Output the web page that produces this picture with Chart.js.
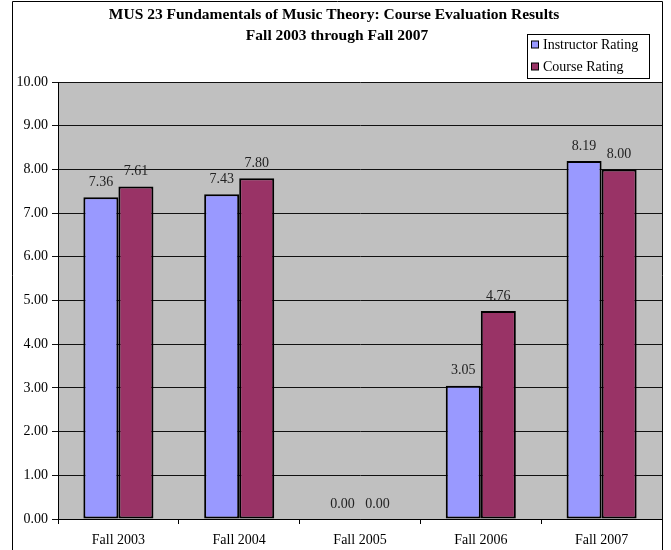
<!DOCTYPE html>
<html>
<head>
<meta charset="utf-8">
<script src="https://cdn.jsdelivr.net/npm/chart.js@4"></script>
<style>
  html, body { margin: 0; padding: 0; background: #fff; }
  #wrap { width: 671px; height: 550px; position: relative; }
</style>
</head>
<body>
<div id="wrap"><canvas id="c" width="671" height="550"></canvas></div>
<script>
const categories = ['Fall 2003', 'Fall 2004', 'Fall 2005', 'Fall 2006', 'Fall 2007'];
const instructorRating = [7.36, 7.43, 0.00, 3.05, 8.19];
const courseRating = [7.61, 7.80, 0.00, 4.76, 8.00];
const titleLines = ['MUS 23 Fundamentals of Music Theory: Course Evaluation Results', 'Fall 2003 through Fall 2007'];
const seriesNames = ['Instructor Rating', 'Course Rating'];
const seriesColors = ['#9999FF', '#993366'];

const SERIF = '"Liberation Serif", "Times New Roman", serif';

// Gray plot background, outer frame, title and boxed legend
const decor = {
  id: 'decor',
  beforeDraw(chart) {
    const { ctx, chartArea: a } = chart;
    ctx.save();
    ctx.fillStyle = '#C0C0C0';
    ctx.fillRect(a.left, a.top, a.right - a.left, a.bottom - a.top);
    ctx.restore();
  },
  afterDraw(chart) {
    const { ctx } = chart;
    ctx.save();
    // frame
    ctx.strokeStyle = '#000';
    ctx.lineWidth = 1;
    ctx.beginPath();
    ctx.moveTo(12.5, 550);
    ctx.lineTo(12.5, 1.5);
    ctx.lineTo(662.5, 1.5);
    ctx.lineTo(662.5, 550);
    ctx.stroke();
    // title
    ctx.fillStyle = '#000';
    ctx.font = 'bold 15.5px ' + SERIF;
    ctx.textAlign = 'center';
    ctx.textBaseline = 'middle';
    ctx.fillText(titleLines[0], 334, 15);
    ctx.fillText(titleLines[1], 337, 36);
    // legend
    const lx = 527.5, ly = 34.5, lw = 122, lh = 44;
    ctx.fillStyle = '#fff';
    ctx.fillRect(lx, ly, lw, lh);
    ctx.strokeRect(lx, ly, lw, lh);
    ctx.font = '14px ' + SERIF;
    ctx.textAlign = 'left';
    seriesNames.forEach((name, i) => {
      const cy = 45 + i * 22;
      ctx.fillStyle = seriesColors[i];
      ctx.fillRect(531.5, cy - 4, 7, 7);
      ctx.strokeStyle = '#000';
      ctx.strokeRect(531.5, cy - 4, 7, 7);
      ctx.fillStyle = '#000';
      ctx.fillText(name, 543, cy);
    });
    ctx.restore();
  },
  afterDatasetsDraw(chart) {
    const { ctx } = chart;
    ctx.save();
    ctx.font = '14px ' + SERIF;
    ctx.fillStyle = '#222';
    ctx.textAlign = 'center';
    ctx.textBaseline = 'middle';
    chart.data.datasets.forEach((ds, di) => {
      chart.getDatasetMeta(di).data.forEach((bar, i) => {
        ctx.fillText(ds.data[i].toFixed(2), bar.x, bar.y - 15);
      });
    });
    ctx.restore();
  }
};

new Chart(document.getElementById('c'), {
  type: 'bar',
  data: {
    labels: categories,
    datasets: [
      { label: seriesNames[0], data: instructorRating, backgroundColor: seriesColors[0],
        borderColor: '#000', borderWidth: c => (c.raw === 0 ? 0 : 2), borderSkipped: false },
      { label: seriesNames[1], data: courseRating, backgroundColor: seriesColors[1],
        borderColor: '#000', borderWidth: c => (c.raw === 0 ? 0 : 2), borderSkipped: false }
    ]
  },
  options: {
    responsive: false,
    animation: false,
    events: [],
    layout: { padding: { top: 82, right: 9, left: 0, bottom: 0 } },
    datasets: { bar: { categoryPercentage: 0.58, barPercentage: 1.0 } },
    plugins: { legend: { display: false }, title: { display: false }, tooltip: { enabled: false } },
    scales: {
      x: {
        afterFit(s) { s.height = 31; },
        grid: { offset: true, drawOnChartArea: false, drawTicks: true, tickLength: 5, color: '#000' },
        border: { color: '#000', width: 1 },
        ticks: { font: { family: SERIF, size: 14 }, color: '#000', padding: 8 }
      },
      y: {
        min: 0, max: 10,
        afterFit(s) { s.width = 58; },
        grid: { color: '#111', lineWidth: 1, drawTicks: true, tickLength: 6 },
        border: { color: '#000', width: 1 },
        ticks: { stepSize: 1, font: { family: SERIF, size: 14 }, color: '#000', padding: 4,
                 callback: v => Number(v).toFixed(2) }
      }
    }
  },
  plugins: [decor]
});
</script>
</body>
</html>
